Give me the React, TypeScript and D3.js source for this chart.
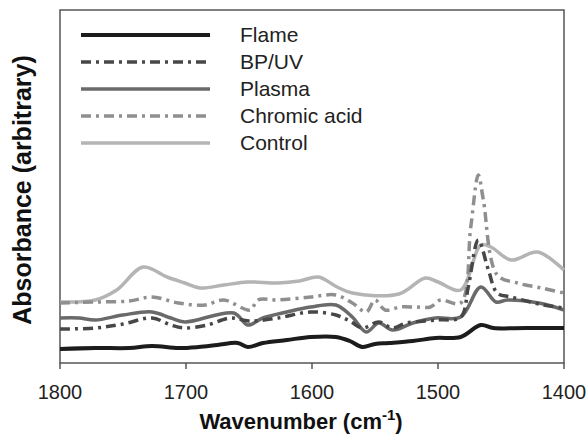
import React from "react";
import * as d3 from "d3";

// Wavenumber (cm-1) / absorbance (arbitrary units) pairs
const flameWn = [1800, 1772, 1745, 1727, 1706, 1690, 1675, 1659, 1651, 1639, 1620, 1601, 1581, 1570, 1560, 1550, 1539, 1520, 1502, 1482, 1466, 1456, 1430, 1400];
const flameAbs = [16, 17, 17, 19, 17, 18, 20, 22, 18, 22, 25, 28, 28, 24, 18, 21, 22, 24, 27, 28, 40, 37, 37, 37];

const bpuvWn = [1800, 1772, 1750, 1727, 1712, 1701, 1683, 1665, 1650, 1627, 1601, 1581, 1570, 1560, 1547, 1536, 1525, 1502, 1482, 1476, 1468, 1460, 1453, 1442, 1416, 1400];
const bpuvAbs = [36, 37, 41, 47, 40, 37, 40, 47, 44, 47, 53, 50, 44, 37, 43, 37, 42, 45, 48, 78, 125, 95, 72, 68, 60, 57];

const plasmaWn = [1800, 1785, 1772, 1750, 1727, 1712, 1701, 1662, 1651, 1639, 1620, 1601, 1581, 1568, 1557, 1547, 1536, 1520, 1502, 1482, 1466, 1454, 1445, 1420, 1400];
const plasmaAbs = [47, 47, 45, 50, 53, 47, 43, 52, 40, 47, 53, 58, 60, 48, 33, 42, 35, 42, 47, 48, 78, 63, 65, 62, 55];

const chromicWn = [1800, 1772, 1745, 1727, 1706, 1685, 1670, 1649, 1643, 1627, 1601, 1581, 1568, 1557, 1550, 1542, 1530, 1518, 1506, 1498, 1482, 1474, 1468, 1464, 1453, 1437, 1418, 1400];
const chromicAbs = [62, 63, 64, 68, 62, 60, 65, 55, 65, 65, 68, 70, 62, 53, 65, 55, 58, 58, 58, 65, 62, 138, 190, 165, 90, 82, 77, 72];

const controlWn = [1800, 1772, 1755, 1734, 1715, 1701, 1689, 1670, 1651, 1627, 1610, 1595, 1580, 1568, 1531, 1510, 1500, 1482, 1466, 1458, 1442, 1421, 1400];
const controlAbs = [63, 65, 75, 98, 88, 82, 77, 80, 83, 82, 84, 88, 78, 72, 71, 87, 83, 75, 120, 118, 105, 113, 95];

const seriesNames = ["Flame", "BP/UV", "Plasma", "Chromic acid", "Control"];
const seriesColors = ["#1c1c1c", "#474747", "#6a6a6a", "#8f8f8f", "#b4b4b4"];
const seriesDash = ["none", "10,5,3,5", "none", "10,5,3,5", "none"];
const seriesWidth = [4, 3.5, 3.5, 3.5, 3.5];
const seriesWn = [flameWn, bpuvWn, plasmaWn, chromicWn, controlWn];
const seriesAbs = [flameAbs, bpuvAbs, plasmaAbs, chromicAbs, controlAbs];

const xTicks = [1800, 1700, 1600, 1500, 1400];

export default function App() {
  const W = 588, H = 445;
  const left = 60, right = 564, top = 10, bottom = 363;
  const x = d3.scaleLinear().domain([1800, 1400]).range([left, right]);
  const y = d3.scaleLinear().domain([0, 355]).range([365, 10]);
  const line = d3
    .line<[number, number]>()
    .x((d) => x(d[0]))
    .y((d) => y(d[1]))
    .curve(d3.curveCatmullRom.alpha(0.5));

  const font = "'Liberation Sans', Arial, sans-serif";
  // draw order: control at back, flame at front
  const order = [4, 3, 2, 1, 0];

  return (
    <svg width={W} height={H} style={{ position: "absolute", left: 0, top: 0, background: "#fff" }}>
      <rect x={left} y={top} width={right - left} height={bottom - top} fill="#fff" stroke="#555" strokeWidth={1.5} />
      {order.map((i) => (
        <path
          key={seriesNames[i]}
          d={line(seriesWn[i].map((w, k) => [w, seriesAbs[i][k]] as [number, number])) || ""}
          fill="none"
          stroke={seriesColors[i]}
          strokeWidth={seriesWidth[i]}
          strokeDasharray={seriesDash[i]}
          strokeLinejoin="round"
        />
      ))}
      {xTicks.map((t) => (
        <g key={t}>
          <line x1={x(t)} x2={x(t)} y1={bottom} y2={bottom + 6} stroke="#555" strokeWidth={1.5} />
          <text x={x(t)} y={399} textAnchor="middle" fontFamily={font} fontSize={20} fill="#222">
            {t}
          </text>
        </g>
      ))}
      <text x={301} y={429} textAnchor="middle" fontFamily={font} fontSize={22} fontWeight="bold" fill="#111">
        Wavenumber (cm<tspan dy={-9} fontSize={15}>-1</tspan><tspan dy={9}>)</tspan>
      </text>
      <text
        transform={`translate(31,190) rotate(-90)`}
        textAnchor="middle"
        fontFamily={font}
        fontSize={25}
        fontWeight="bold"
        fill="#111"
      >
        Absorbance (arbitrary)
      </text>
      {seriesNames.map((n, i) => {
        const ly = 35 + i * 27;
        return (
          <g key={n}>
            <line x1={81} x2={210} y1={ly} y2={ly} stroke={seriesColors[i]} strokeWidth={seriesWidth[i]} strokeDasharray={seriesDash[i]} />
            <text x={240} y={ly + 7} fontFamily={font} fontSize={21} fill="#222">
              {n}
            </text>
          </g>
        );
      })}
    </svg>
  );
}
